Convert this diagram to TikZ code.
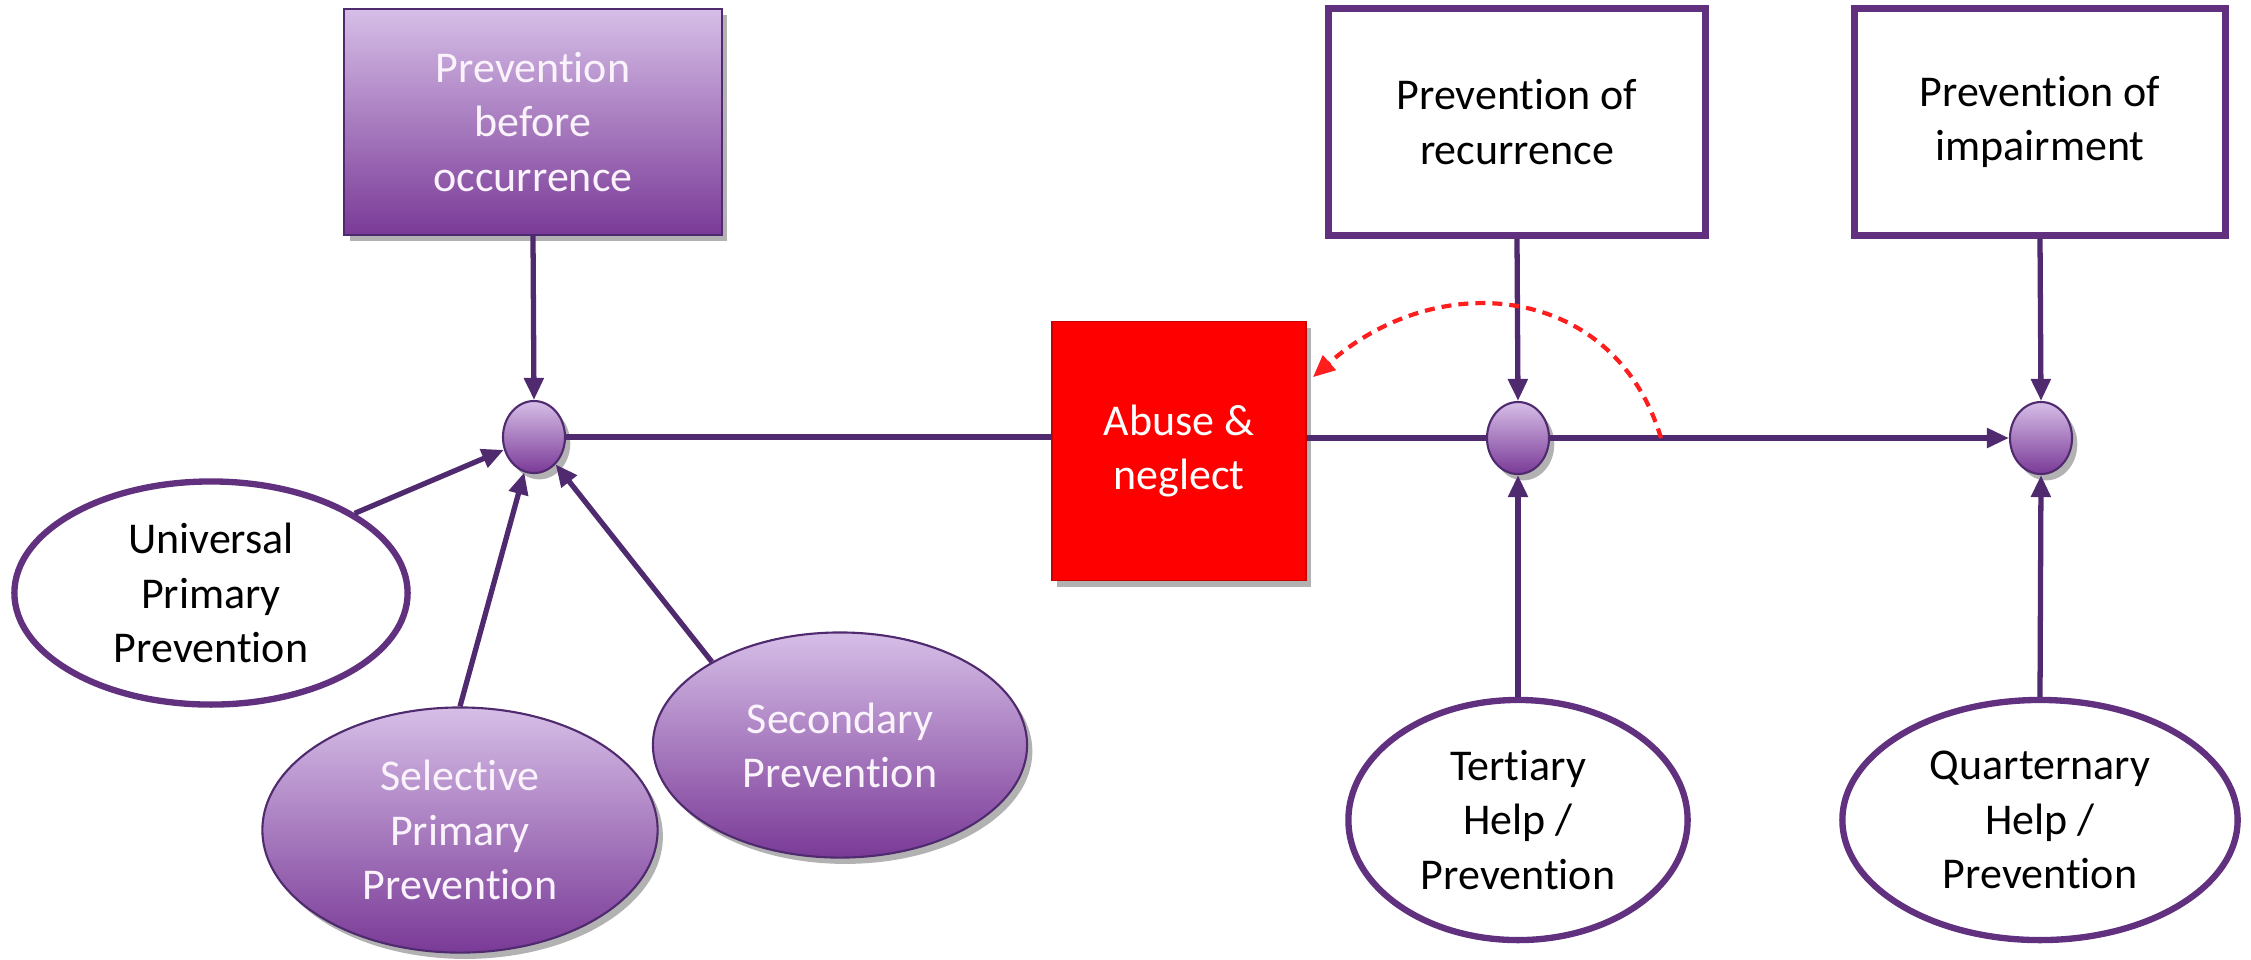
\documentclass[tikz,border=0pt]{standalone}
\usepackage{fontspec}
\setmainfont{Carlito}[Ligatures=NoCommon]
\usetikzlibrary{arrows.meta,shapes.geometric,shadows}
\definecolor{lineC}{HTML}{4F2A6E}
\definecolor{borderC}{HTML}{61317F}
\definecolor{gradTop}{HTML}{D6BEE7}
\definecolor{gradBot}{HTML}{7A3A97}
\definecolor{textW}{HTML}{FAF3FC}
\definecolor{redC}{HTML}{FF1E1E}
\definecolor{abuseC}{HTML}{FF0000}
\begin{document}
\begin{tikzpicture}[x=0.01cm,y=-0.01cm,
  font=\fontsize{12.5}{15.4}\selectfont,
  shad/.style={drop shadow={shadow xshift=1.5pt,shadow yshift=-1.8pt,opacity=0.3,fill=black}},
  gradbox/.style={rectangle, draw=lineC, line width=0.6pt, top color=gradTop, bottom color=gradBot, text=textW, align=center, shad},
  whitebox/.style={rectangle, draw=borderC, line width=2pt, fill=white, align=center, text=black},
  abusebox/.style={rectangle, draw=abuseC!80!black, line width=0.5pt, fill=abuseC, text=white, align=center, shad},
  gradell/.style={ellipse, draw=lineC, line width=0.6pt, top color=gradTop, bottom color=gradBot, text=textW, align=center, inner sep=0pt, shad},
  whiteell/.style={ellipse, draw=borderC, line width=1.8pt, fill=white, align=center, inner sep=0pt, text=black},
  dot/.style={ellipse, draw=lineC, line width=0.6pt, top color=gradTop, bottom color=gradBot, minimum width=0.62cm, minimum height=0.72cm, inner sep=0pt, shad},
  conn/.style={draw=lineC, line width=1.5pt},
  arr/.style={conn, -{Triangle[length=0.22cm,width=0.19cm]}},
  redarr/.style={draw=redC, line width=1.2pt, dash pattern=on 0.1cm off 0.07cm, -{Triangle[length=0.22cm,width=0.19cm]}}
]
\useasboundingbox (0,0) rectangle (2251,959);

% top boxes
\node[gradbox, minimum width=3.77cm, minimum height=2.26cm] (pbo) at (533,122) {Prevention\\before\\occurrence};
\node[whitebox, minimum width=3.76cm, minimum height=2.26cm] (por) at (1517,122) {Prevention of\\recurrence};
\node[whitebox, minimum width=3.70cm, minimum height=2.26cm] (poi) at (2040,122) {Prevention of\\impairment};

% junction dots
\node[dot] (e1) at (534,437) {};
\node[dot] (e2) at (1518,438) {};
\node[dot] (e3) at (2041,438) {};

% abuse box
\node[abusebox, minimum width=2.54cm, minimum height=2.59cm] (abuse) at (1179,451) {Abuse \&\\neglect};

% lower ellipses
\node[whiteell, minimum width=3.93cm, minimum height=2.23cm] (univ) at (211,593) {Universal\\Primary\\Prevention};
\node[gradell, minimum width=3.95cm, minimum height=2.45cm] (sel) at (460,830) {Selective\\Primary\\Prevention};
\node[gradell, minimum width=3.74cm, minimum height=2.25cm] (sec) at (840,745) {Secondary\\Prevention};
\node[whiteell, minimum width=3.39cm, minimum height=2.40cm] (ter) at (1518,820) {Tertiary\\Help /\\Prevention};
\node[whiteell, minimum width=3.95cm, minimum height=2.40cm] (qua) at (2040,820) {Quarternary\\Help /\\Prevention};

% connectors
\draw[arr] (pbo.south) -- (e1.north);
\draw[arr] (univ.29) -- (e1);
\draw[arr] (sel.north) -- (e1);
\draw[arr] (sec.147) -- (e1);
\draw[conn] (e1.east) -- (e1.east -| abuse.west);
\draw[conn] (e2.west -| abuse.east) -- (e2.west);
\draw[arr] (e2.east) -- (e3.west);
\draw[arr] (por.south) -- (e2.north);
\draw[arr] (poi.south) -- (e3.north);
\draw[arr] (ter.north) -- (e2.south);
\draw[arr] (qua.north) -- (e3.south);

% red dashed feedback
\coordinate (dstart) at (1661,438);
\draw[redarr] (dstart) .. controls (1615,285) and (1440,265) .. ([xshift=0.06cm]abuse.30);
\end{tikzpicture}
\end{document}
